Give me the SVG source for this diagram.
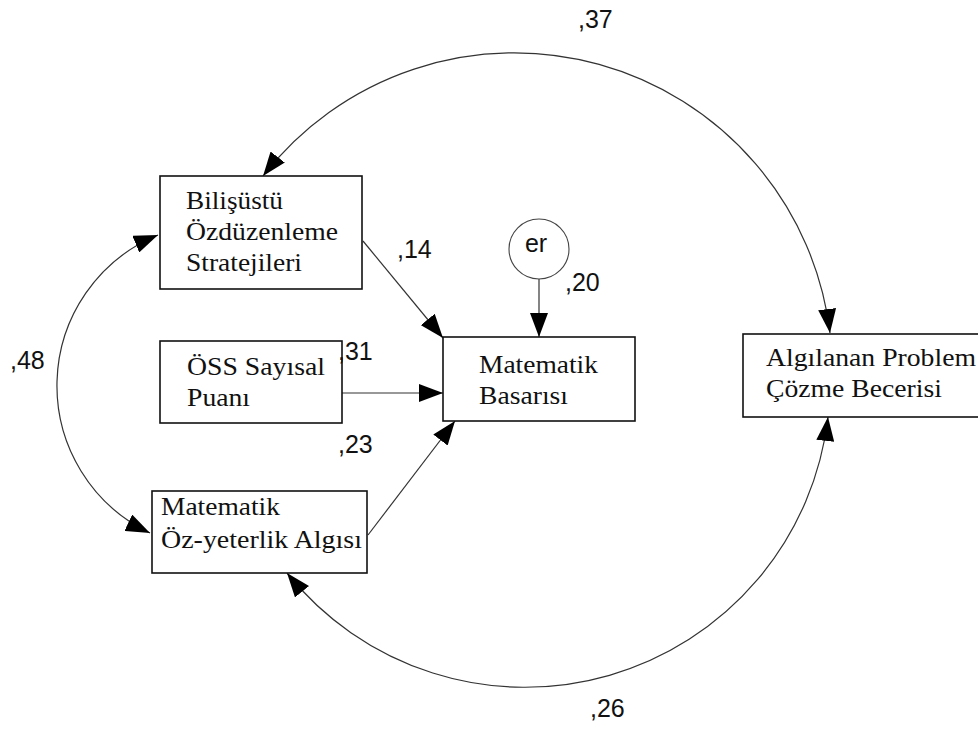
<svg xmlns="http://www.w3.org/2000/svg" width="978" height="729" viewBox="0 0 978 729">
  <defs>
    <marker id="arrow" viewBox="0 0 24 18" refX="24" refY="9" markerWidth="24" markerHeight="18" markerUnits="userSpaceOnUse" orient="auto-start-reverse">
      <path d="M0,0 L24,9 L0,18 Z" fill="#000"/>
    </marker>
    <style>
      .box { fill: #fff; stroke: #111; stroke-width: 1.6; }
      .err { fill: #fff; stroke: #444; stroke-width: 1.1; }
      .lbl { font-family: "Liberation Serif", "Times New Roman", serif; font-size: 25px; fill: #111; }
      .coef { font-family: "Liberation Sans", Arial, sans-serif; font-size: 25px; fill: #111; }
      .path { fill: none; stroke: #333; stroke-width: 1.2; marker-end: url(#arrow); }
      .cov { fill: none; stroke: #333; stroke-width: 1.2; marker-start: url(#arrow); marker-end: url(#arrow); }
    </style>
  </defs>
  <rect width="978" height="729" fill="#fff"/>

  <!-- connectors: regression paths and covariance arcs -->
  <g id="connectors">
    <line class="path" x1="363" y1="241" x2="443" y2="338"/>
    <line class="path" x1="342" y1="393" x2="443" y2="393"/>
    <line class="path" x1="368" y1="535" x2="455" y2="421"/>
    <line class="path" x1="539" y1="279" x2="539" y2="337"/>
    <path class="cov" d="M263,176 A318,318 0 0 1 830,333"/>
    <path class="cov" d="M287,573 A305,305 0 0 0 828,417"/>
    <path class="cov" d="M158,235 A163,163 0 0 0 150,533"/>
  </g>

  <g id="node-bilisustu">
    <rect class="box" x="160" y="176" width="202" height="113"/>
    <text class="lbl" x="186" y="209" textLength="97" lengthAdjust="spacingAndGlyphs">Bilişüstü</text>
    <text class="lbl" x="186" y="240" textLength="152" lengthAdjust="spacingAndGlyphs">Özdüzenleme</text>
    <text class="lbl" x="186" y="271" textLength="116" lengthAdjust="spacingAndGlyphs">Stratejileri</text>
  </g>

  <g id="node-oss">
    <rect class="box" x="160" y="341" width="182" height="82"/>
    <text class="lbl" x="187" y="375" textLength="138" lengthAdjust="spacingAndGlyphs">ÖSS Sayısal</text>
    <text class="lbl" x="187" y="406" textLength="63" lengthAdjust="spacingAndGlyphs">Puanı</text>
  </g>

  <g id="node-ozyeterlik">
    <rect class="box" x="152" y="491" width="215" height="82"/>
    <text class="lbl" x="161" y="515" textLength="119" lengthAdjust="spacingAndGlyphs">Matematik</text>
    <text class="lbl" x="161" y="548" textLength="201" lengthAdjust="spacingAndGlyphs">Öz-yeterlik Algısı</text>
  </g>

  <g id="node-basari">
    <rect class="box" x="443" y="337" width="192" height="84"/>
    <text class="lbl" x="479" y="373" textLength="119" lengthAdjust="spacingAndGlyphs">Matematik</text>
    <text class="lbl" x="479" y="404" textLength="89" lengthAdjust="spacingAndGlyphs">Basarısı</text>
  </g>

  <g id="node-er">
    <circle class="err" cx="539" cy="249" r="30"/>
    <text class="coef" x="536" y="252" text-anchor="middle" font-size="23">er</text>
  </g>

  <g id="node-problem">
    <rect class="box" x="743" y="334" width="260" height="83"/>
    <text class="lbl" x="766" y="366" textLength="210" lengthAdjust="spacingAndGlyphs">Algılanan Problem</text>
    <text class="lbl" x="766" y="397" textLength="176" lengthAdjust="spacingAndGlyphs">Çözme Becerisi</text>
  </g>

  <!-- standardized coefficients -->
  <g id="coefficients">
    <text class="coef" x="578" y="28">,37</text>
    <text class="coef" x="397" y="258">,14</text>
    <text class="coef" x="565" y="291">,20</text>
    <text class="coef" x="338" y="360">,31</text>
    <text class="coef" x="338" y="453">,23</text>
    <text class="coef" x="10" y="369">,48</text>
    <text class="coef" x="590" y="717">,26</text>
  </g>
</svg>
